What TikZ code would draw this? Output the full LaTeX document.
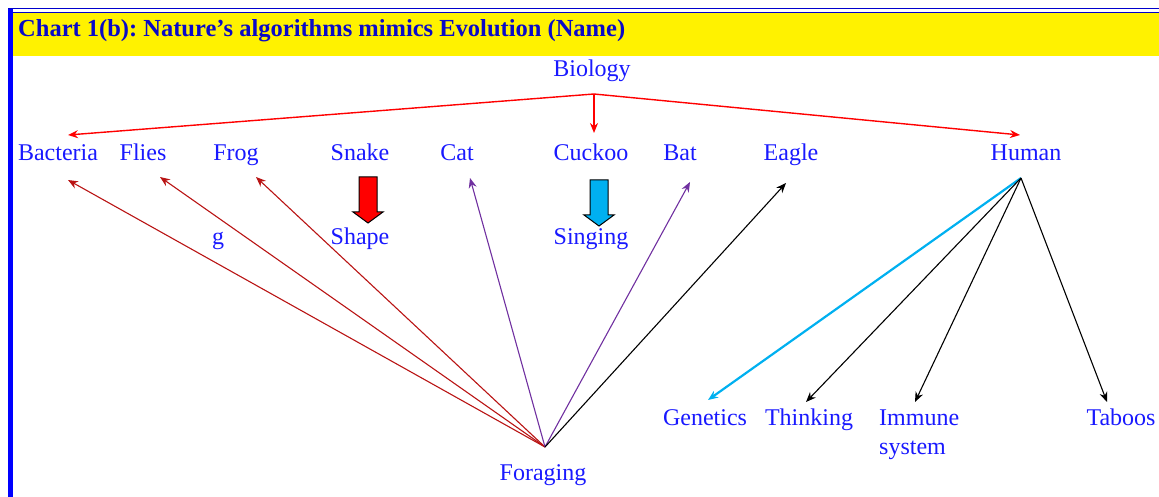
\documentclass[tikz,border=0pt]{standalone}
\usepackage{fontspec}
\setmainfont{Liberation Serif}
\usetikzlibrary{arrows.meta}
\definecolor{labblue}{RGB}{25,25,255}
\definecolor{titleblue}{RGB}{10,10,200}
\definecolor{darkred}{RGB}{185,20,20}
\definecolor{violet}{RGB}{112,48,160}
\definecolor{skyblue}{RGB}{0,176,240}
\tikzset{
  lbl/.style={text=labblue,inner sep=0pt,text height=16pt,text depth=5pt,
    font=\fontsize{24}{28.8}\selectfont},
  tip/.style={-{Stealth[length=10pt,width=8pt]}},
  pics/fatarrow/.style={code={
    \draw[line width=1pt,fill=#1] (-9,-23) -- (9,-23) -- (9,12) -- (15,12)
      -- (0,23) -- (-15,12) -- (-9,12) -- cycle;}}
}
\frenchspacing
\begin{document}
\begin{tikzpicture}[x=1pt,y=-1pt]
\useasboundingbox (0,0) rectangle (1159,497);
% frame and title band
\fill[yellow] (12,13) rectangle (1159,56);
\draw[blue!80!black,line width=1pt] (8,9) -- (1159,9);
\draw[blue!80!black,line width=1.5pt] (12,12.5) -- (1159,12.5);
\fill[blue] (8,9) rectangle (12.5,497);
\node[anchor=west,inner sep=0pt,text=titleblue,font=\fontsize{24.5}{28}\selectfont\bfseries]
  (title) at (18,31) {Chart 1(b): Nature’s algorithms mimics Evolution (Name)};
% labels
\node[lbl] (bio) at (592,71) {Biology};
\foreach \nm/\x/\lab in {bact/58/Bacteria,flies/143/Flies,frog/236/Frog,snake/360/Snake,
    cat/457/Cat,cuckoo/591/Cuckoo,bat/680/Bat,eagle/791/Eagle,human/1026/Human}{
  \node[lbl] (\nm) at (\x,155) {\lab};
}
\node[lbl] (g) at (218,239) {g};
\node[lbl] (shape) at (360,239) {Shape};
\node[lbl] (singing) at (591,239) {Singing};
\node[lbl] (forage) at (543,475) {Foraging};
\node[lbl] (gen) at (705,420) {Genetics};
\node[lbl] (think) at (809,420) {Thinking};
\node[lbl,align=left,anchor=base west,text height=,text depth=] (imm) at (879,454) {Immune\\system};
\node[lbl] (taboo) at (1121,420) {Taboos};
% fork points
\coordinate (bioF) at ([shift={(2,23)}]bio.center);
\coordinate (forF) at ([shift={(2,-28)}]forage.center);
\coordinate (humF) at ([shift={(-5,23)}]human.center);
% biology
\draw[tip,red,line width=1.4pt] (bioF) -- ([shift={(10,-20)}]bact.center);
\draw[tip,red,line width=1.4pt] (bioF) -- ([shift={(3,-22)}]cuckoo.center);
\draw[tip,red,line width=1.4pt] (bioF) -- ([shift={(-6,-20)}]human.center);
% foraging
\draw[tip,darkred,line width=1.1pt] (forF) -- ([shift={(10,25)}]bact.center);
\draw[tip,darkred,line width=1.1pt] (forF) -- ([shift={(17,22)}]flies.center);
\draw[tip,darkred,line width=1.1pt] (forF) -- ([shift={(20,22)}]frog.center);
\draw[tip,violet,line width=1.1pt] (forF) -- ([shift={(13,23)}]cat.center);
\draw[tip,violet,line width=1.1pt] (forF) -- ([shift={(10,27)}]bat.center);
\draw[tip,black,line width=1.1pt] (forF) -- ([shift={(-5,28)}]eagle.center);
% human
\draw[tip,skyblue,line width=2.2pt] (humF) -- ([shift={(3,-20)}]gen.center);
\draw[tip,black,line width=1.1pt] (humF) -- ([shift={(-3,-18)}]think.center);
\draw[tip,black,line width=1.1pt] (humF) -- ([shift={(36,-52)}]imm.base west);
\draw[tip,black,line width=1.1pt] (humF) -- ([shift={(-14,-18)}]taboo.center);
% fat arrows
\pic at (368,200) {fatarrow=red};
\pic at (599,203) {fatarrow=skyblue};
\end{tikzpicture}
\end{document}
